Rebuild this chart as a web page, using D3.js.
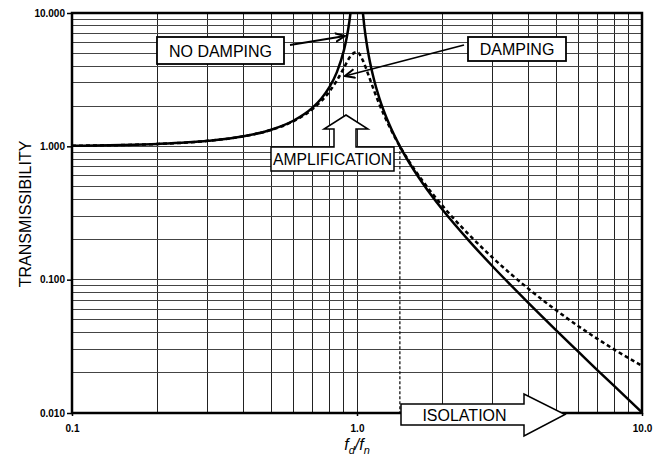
<!DOCTYPE html>
<html lang="en">
<head>
<meta charset="utf-8">
<title>Transmissibility</title>
<script src="https://cdn.jsdelivr.net/npm/d3@7"></script>
<style>
body { margin:0; background:#fff; }
svg { display:block; font-family:"Liberation Sans", Arial, sans-serif; }
</style>
</head>
<body>
<svg id="chart" width="660" height="456"></svg>
<script>
// fd/fn ratio and transmissibility
var noDampLeftR  = [0.1, 0.15, 0.2, 0.3, 0.4, 0.5, 0.6, 0.7, 0.75, 0.8, 0.85, 0.9, 0.92, 0.94, 0.9487];
var noDampLeftT  = [1.010, 1.023, 1.042, 1.099, 1.190, 1.333, 1.563, 1.961, 2.286, 2.778, 3.604, 5.263, 6.510, 8.591, 10.0];
var noDampRightR = [1.049, 1.06, 1.08, 1.1, 1.15, 1.2, 1.3, 1.414, 1.5, 1.7, 2, 2.5, 3, 4, 5, 6, 7, 8, 10];
var noDampRightT = [10.0, 8.09, 6.01, 4.762, 3.101, 2.273, 1.449, 1.0, 0.80, 0.529, 0.333, 0.1905, 0.125, 0.0667, 0.0417, 0.0286, 0.0208, 0.0159, 0.0101];
var dampR = [0.1, 0.2, 0.3, 0.4, 0.5, 0.6, 0.7, 0.75, 0.8, 0.85, 0.9, 0.95, 1.0, 1.05, 1.1, 1.15, 1.2, 1.3, 1.414, 1.5, 1.7, 2, 2.5, 3, 4, 5, 6, 7, 8, 10];
var dampT = [1.010, 1.042, 1.099, 1.189, 1.328, 1.547, 1.909, 2.186, 2.571, 3.117, 3.882, 4.767, 5.099, 4.373, 3.367, 2.590, 2.052, 1.401, 1.0, 0.812, 0.550, 0.356, 0.212, 0.1454, 0.0853, 0.0589, 0.0446, 0.0358, 0.0299, 0.0226];
var isolationR = 1.414;

var xTickVals = [0.1, 1, 10];
var xTickLabels = ["0.1", "1.0", "10.0"];
var yTickVals = [0.01, 0.1, 1, 10];
var yTickLabels = ["0.010", "0.100", "1.000", "10.000"];

var svg = d3.select("#chart");
var L = 72, R = 642, T = 13, B = 413;

var x = d3.scaleLog().domain([0.1, 10]).range([L, R]);
var y = d3.scaleLog().domain([0.01, 10]).range([B, T]);

function pairs(rs, ts) { return rs.map(function(r, i) { return [r, ts[i]]; }); }

//////////////////////////////
// grid
var grid = svg.append("g").attr("shape-rendering", "crispEdges");
grid.selectAll(".vgrid").data(x.ticks().filter(function(d){ return d > 0.1 && d < 10; }))
  .enter().append("line").attr("class", "vgrid")
  .attr("x1", function(d){ return x(d); }).attr("x2", function(d){ return x(d); })
  .attr("y1", T).attr("y2", B)
  .attr("stroke", "#222").attr("stroke-width", 1);
grid.selectAll(".hgrid").data(y.ticks().filter(function(d){ return d > 0.01 && d < 10; }))
  .enter().append("line").attr("class", "hgrid")
  .attr("y1", function(d){ return y(d); }).attr("y2", function(d){ return y(d); })
  .attr("x1", L).attr("x2", R)
  .attr("stroke", "#444").attr("stroke-width", 1);

//////////////////////////////
// curves
svg.append("clipPath").attr("id", "plotclip").append("rect")
  .attr("x", L).attr("y", T).attr("width", R - L).attr("height", B - T);

var line = d3.line().x(function(d){ return x(d[0]); }).y(function(d){ return y(d[1]); })
  .curve(d3.curveMonotoneX);

var curves = svg.append("g").attr("clip-path", "url(#plotclip)");

// dashed line at fd/fn = sqrt(2)
curves.append("line")
  .attr("x1", x(isolationR)).attr("x2", x(isolationR))
  .attr("y1", y(1)).attr("y2", B)
  .attr("stroke", "#000").attr("stroke-width", 1.2).attr("stroke-dasharray", "3,2");

curves.append("path").datum(pairs(dampR, dampT)).attr("d", line)
  .attr("fill", "none").attr("stroke", "#000").attr("stroke-width", 2.5)
  .attr("stroke-dasharray", "4,3");
curves.append("path").datum(pairs(noDampLeftR, noDampLeftT)).attr("d", line)
  .attr("fill", "none").attr("stroke", "#000").attr("stroke-width", 2.5);
curves.append("path").datum(pairs(noDampRightR, noDampRightT)).attr("d", line)
  .attr("fill", "none").attr("stroke", "#000").attr("stroke-width", 2.5);

//////////////////////////////
// axes
var yAxis = svg.append("g").attr("transform", "translate(" + L + ",0)")
  .call(d3.axisLeft(y).tickValues(yTickVals).tickSize(5).tickPadding(2)
    .tickFormat(function(d, i){ return yTickLabels[i]; }));
var xAxis = svg.append("g").attr("transform", "translate(0," + B + ")")
  .call(d3.axisBottom(x).tickValues(xTickVals).tickSize(3).tickPadding(9)
    .tickFormat(function(d, i){ return xTickLabels[i]; }));
[xAxis, yAxis].forEach(function(a){
  a.select(".domain").remove();
  a.selectAll("text").attr("font-family", "'Liberation Sans', Arial, sans-serif")
    .attr("font-size", 10).attr("font-weight", "bold").attr("fill", "#000");
  a.selectAll(".tick line").attr("stroke", "#000").attr("stroke-width", 1.5);
});

// frame
svg.append("rect").attr("x", L).attr("y", T).attr("width", R - L).attr("height", B - T)
  .attr("fill", "none").attr("stroke", "#000").attr("stroke-width", 2.5);

// axis titles
svg.append("text").attr("transform", "translate(31,214) rotate(-90)")
  .attr("text-anchor", "middle").attr("font-size", 16).text("TRANSMISSIBILITY");

var xt = svg.append("text").attr("x", 357).attr("y", 450).attr("text-anchor", "middle")
  .attr("font-size", 16).attr("font-style", "italic");
xt.append("tspan").text("f");
xt.append("tspan").attr("dy", 4).attr("font-size", 11).text("d");
xt.append("tspan").attr("dy", -4).text("/f");
xt.append("tspan").attr("dy", 4).attr("font-size", 11).text("n");

//////////////////////////////
// annotations
var defs = svg.append("defs");
defs.append("marker").attr("id", "vhead").attr("viewBox", "0 0 10 10")
  .attr("refX", 9).attr("refY", 5).attr("markerWidth", 11).attr("markerHeight", 11)
  .attr("markerUnits", "userSpaceOnUse").attr("orient", "auto")
  .append("path").attr("d", "M0,1 L9,5 L0,9").attr("fill", "none")
  .attr("stroke", "#000").attr("stroke-width", 1.8);

function labelBox(x0, y0, w, h, txt) {
  svg.append("rect").attr("x", x0).attr("y", y0).attr("width", w).attr("height", h)
    .attr("fill", "#fff").attr("stroke", "#000").attr("stroke-width", 1.8);
  svg.append("text").attr("x", x0 + w / 2).attr("y", y0 + h / 2 + 6)
    .attr("text-anchor", "middle").attr("font-size", 16).text(txt);
}

svg.append("line").attr("x1", 290).attr("y1", 45).attr("x2", 345).attr("y2", 36)
  .attr("stroke", "#000").attr("stroke-width", 1.8).attr("marker-end", "url(#vhead)");
svg.append("line").attr("x1", 464).attr("y1", 45).attr("x2", 345).attr("y2", 76)
  .attr("stroke", "#000").attr("stroke-width", 1.8).attr("marker-end", "url(#vhead)");

labelBox(157, 37, 127, 27, "NO DAMPING");
labelBox(468, 37, 98, 24, "DAMPING");

// amplification: box with up arrow
var amp = [[271,171],[271,147],[334,147],[334,129],[324,129],[346,115],[368,129],[356,129],[356,147],[394,147],[394,171]];
svg.append("path").attr("d", "M" + amp.join("L") + "Z")
  .attr("fill", "#fff").attr("stroke", "#000").attr("stroke-width", 1.5);
svg.append("text").attr("x", 332.5).attr("y", 165).attr("text-anchor", "middle")
  .attr("font-size", 16).attr("textLength", 119).attr("lengthAdjust", "spacingAndGlyphs")
  .text("AMPLIFICATION");

// isolation: right arrow
var iso = [[401,404],[524,404],[524,394],[565,414.5],[524,436],[524,425],[401,425]];
svg.append("path").attr("d", "M" + iso.join("L") + "Z")
  .attr("fill", "#fff").attr("stroke", "#000").attr("stroke-width", 1.5);
svg.append("text").attr("x", 464.5).attr("y", 420.5).attr("text-anchor", "middle")
  .attr("font-size", 16).text("ISOLATION");
</script>
</body>
</html>
